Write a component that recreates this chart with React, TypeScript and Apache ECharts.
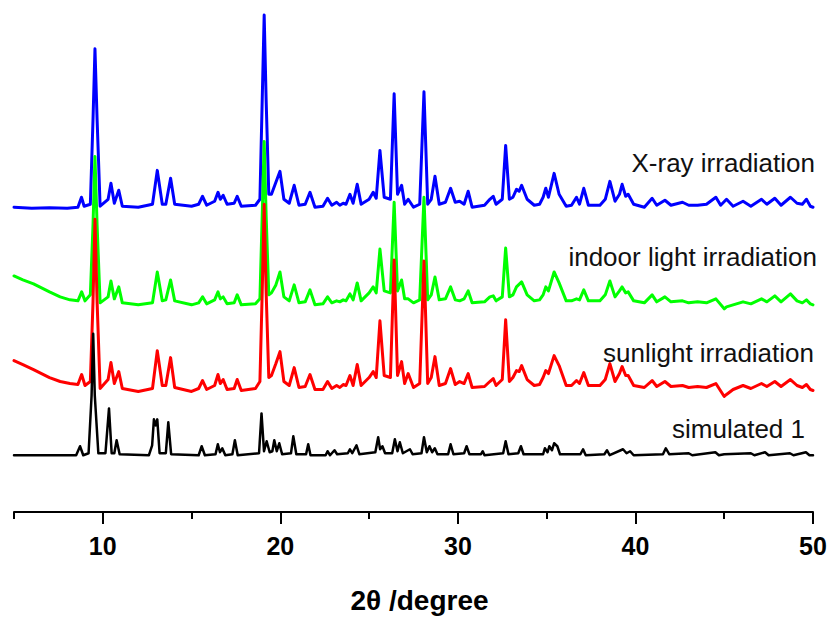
import React, { useEffect, useRef } from "react";
import * as echarts from "echarts";

// 2θ (degree) and intensity (a.u., relative to each pattern's own baseline)
const xrayIrradiation: [number, number][] = [
  [5, 0], [6, -1], [7, -0.5], [8, -1], [8.6, 0], [8.8, 10], [8.95, 1], [9.3, 3], [9.45, 88], [9.56, 159], [9.68, 88], [9.85, 1],
  [10.3, 8], [10.46, 24], [10.65, 4], [10.9, 17], [11.1, 1], [12, 0], [12.8, 3], [13.07, 37], [13.35, 3], [13.55, 3], [13.82, 29],
  [14.05, 3], [15, 1], [15.4, 3], [15.62, 11], [15.85, 2], [16.3, 6], [16.49, 15], [16.62, 8], [16.78, 12], [17.0, 3], [17.4, 4],
  [17.57, 11], [17.8, 1], [18.6, 2], [18.85, 8], [18.98, 108], [19.09, 193], [19.2, 108], [19.35, 13], [19.5, 13], [19.75, 25],
  [19.98, 36], [20.2, 8], [20.5, 4], [20.78, 22], [21.05, 2], [21.4, 3], [21.67, 15], [21.95, 0], [22.4, 1], [22.66, 9], [22.9, 2],
  [23.17, 5], [23.35, 2], [23.54, 4], [23.7, 3], [23.92, 13], [24.1, 4], [24.33, 23], [24.55, 3], [25.0, 8], [25.23, 15], [25.4, 9],
  [25.61, 57], [25.85, 10], [26.2, 8], [26.41, 114], [26.6, 13], [26.83, 22], [27.0, 3], [27.2, 8], [27.5, 0], [27.85, 3],
  [28.09, 116], [28.3, 3], [28.5, 8], [28.71, 31], [28.95, 3], [29.3, 5], [29.59, 19], [29.85, 5], [30.1, 6], [30.35, 3],
  [30.58, 16], [30.8, 0], [31.5, 2], [31.8, 8], [31.99, 11], [32.15, 3], [32.5, 8], [32.69, 62], [32.9, 8], [33.1, 10], [33.3, 18],
  [33.45, 16], [33.59, 22], [33.9, 8], [34.3, 2], [34.6, 3], [34.8, 10], [34.95, 19], [35.1, 10], [35.42, 34], [35.7, 13],
  [36.1, 1], [36.4, 2], [36.68, 10], [36.85, 3], [37.09, 19], [37.35, 2], [38.0, 2], [38.3, 8], [38.56, 26], [38.85, 6],
  [39.1, 13], [39.25, 23], [39.45, 11], [39.59, 13], [39.9, 3], [40.5, 0], [40.94, 9], [41.2, 2], [41.66, 7], [42.0, 2],
  [42.65, 5], [43.0, 2], [43.5, 2], [44.0, 3], [44.53, 10], [44.8, 2], [45.13, 8], [45.5, 1], [46.06, 6], [46.5, 1], [47.1, 8],
  [47.4, 3], [47.85, 9], [48.2, 2], [48.73, 10], [49.1, 4], [49.4, 3], [49.63, 8], [49.85, 1], [50, 0],
];

const indoorLightIrradiation: [number, number][] = [
  [5, 29], [5.5, 25], [6.1, 21], [7.0, 13], [7.6, 8], [8.15, 5], [8.6, 4], [8.81, 13], [9.0, 4], [9.3, 10], [9.45, 80], [9.56, 149],
  [9.68, 80], [9.85, 2], [10.3, 8], [10.46, 24], [10.65, 6], [10.9, 18], [11.1, 2], [12, 0], [12.8, 2], [13.07, 33], [13.35, 4],
  [13.55, 5], [13.82, 25], [14.05, 4], [15, 0], [15.4, 2], [15.62, 8], [15.85, 1], [16.3, 5], [16.49, 13], [16.62, 6], [16.78, 8],
  [17.0, 1], [17.4, 2], [17.57, 10], [17.8, 0], [18.6, 1], [18.85, 6], [18.98, 90], [19.09, 164], [19.2, 90], [19.35, 10],
  [19.5, 12], [19.75, 20], [19.98, 33], [20.2, 8], [20.5, 4], [20.78, 20], [21.05, 2], [21.4, 3], [21.67, 15], [21.95, 0],
  [22.4, 1], [22.66, 8], [22.9, 2], [23.17, 4], [23.35, 3], [23.54, 5], [23.7, 4], [23.92, 11], [24.1, 5], [24.33, 22], [24.55, 4],
  [25.0, 12], [25.23, 18], [25.4, 12], [25.61, 56], [25.85, 14], [26.2, 12], [26.41, 103], [26.6, 14], [26.83, 25], [27.0, 6],
  [27.2, 6], [27.5, 2], [27.85, 5], [28.09, 108], [28.3, 5], [28.5, 10], [28.71, 28], [28.95, 5], [29.3, 6], [29.59, 18],
  [29.85, 5], [30.1, 4], [30.35, 6], [30.58, 14], [30.8, 2], [31.5, 3], [31.8, 8], [31.99, 9], [32.15, 4], [32.5, 8], [32.69, 57],
  [32.9, 8], [33.1, 10], [33.3, 18], [33.59, 23], [33.9, 10], [34.3, 4], [34.6, 5], [34.8, 10], [34.95, 18], [35.1, 14],
  [35.42, 33], [35.7, 22], [36.1, 4], [36.4, 4], [36.68, 6], [36.85, 5], [37.09, 15], [37.35, 4], [38.0, 4], [38.3, 10],
  [38.56, 24], [38.85, 8], [39.1, 14], [39.25, 18], [39.45, 12], [39.59, 13], [39.9, 4], [40.5, 2], [40.94, 10], [41.2, 3],
  [41.66, 8], [42.0, 3], [42.65, 4], [43.0, 2], [43.5, 3], [44.0, 2], [44.53, 6], [45.0, -4], [45.13, -2], [45.5, 0], [46.06, 3],
  [46.5, 1], [47.1, 6], [47.4, 3], [47.85, 9], [48.2, 3], [48.73, 11], [49.1, 4], [49.4, 2], [49.63, 5], [49.85, 1], [50, 0],
];

const sunlightIrradiation: [number, number][] = [
  [5, 31], [5.5, 27], [6.1, 22], [7.0, 14], [7.6, 10], [8.15, 8], [8.6, 7], [8.81, 17], [9.0, 6], [9.3, 10], [9.45, 90], [9.56, 173],
  [9.68, 90], [9.85, 3], [10.3, 12], [10.46, 29], [10.65, 8], [10.9, 20], [11.1, 3], [12, 0], [12.8, 3], [13.07, 41], [13.35, 6],
  [13.55, 6], [13.82, 34], [14.05, 4], [15, 0], [15.4, 3], [15.62, 11], [15.85, 2], [16.3, 6], [16.49, 17], [16.62, 8], [16.78, 12],
  [17.0, 2], [17.4, 3], [17.57, 12], [17.8, 1], [18.6, 3], [18.85, 10], [18.98, 100], [19.09, 188], [19.2, 100], [19.35, 14],
  [19.5, 16], [19.75, 28], [19.98, 40], [20.2, 10], [20.5, 6], [20.78, 24], [21.05, 4], [21.4, 5], [21.67, 17], [21.95, 2],
  [22.4, 2], [22.66, 10], [22.9, 3], [23.17, 6], [23.35, 4], [23.54, 7], [23.7, 6], [23.92, 16], [24.1, 6], [24.33, 27], [24.55, 6],
  [25.0, 14], [25.23, 20], [25.4, 14], [25.61, 71], [25.85, 16], [26.2, 14], [26.41, 132], [26.6, 16], [26.83, 30], [27.0, 8],
  [27.2, 18], [27.5, 4], [27.85, 8], [28.09, 131], [28.3, 8], [28.5, 14], [28.71, 35], [28.95, 6], [29.3, 8], [29.59, 23],
  [29.85, 7], [30.1, 10], [30.35, 8], [30.58, 18], [30.8, 4], [31.5, 5], [31.8, 10], [31.99, 13], [32.15, 6], [32.5, 12],
  [32.69, 72], [32.9, 10], [33.1, 14], [33.3, 21], [33.45, 20], [33.59, 26], [33.9, 12], [34.3, 6], [34.6, 7], [34.8, 14],
  [34.95, 21], [35.1, 18], [35.42, 36], [35.7, 26], [36.1, 6], [36.4, 6], [36.68, 11], [36.85, 8], [37.09, 19], [37.35, 6],
  [38.0, 6], [38.3, 12], [38.56, 28], [38.85, 10], [39.1, 18], [39.25, 25], [39.45, 16], [39.59, 16], [39.9, 6], [40.5, 4],
  [40.94, 11], [41.2, 5], [41.66, 10], [42.0, 5], [42.65, 6], [43.0, 4], [43.5, 5], [44.0, 4], [44.53, 8], [45.0, -5],
  [45.13, -3], [45.5, 2], [46.06, 6], [46.5, 3], [47.1, 8], [47.4, 5], [47.85, 10], [48.2, 5], [48.73, 12], [49.1, 6], [49.4, 4],
  [49.63, 7], [49.85, 2], [50, 1],
];

const simulated1: [number, number][] = [
  [5, 0], [8.5, 0], [8.72, 9], [8.9, 0], [9.2, 2], [9.37, 60], [9.46, 122], [9.55, 60], [9.75, 2], [10.15, 2], [10.35, 47],
  [10.5, 2], [10.65, 2], [10.78, 15], [10.95, 1], [12.6, 0], [12.78, 10], [12.88, 36], [12.98, 30], [13.07, 36], [13.2, 2],
  [13.55, 2], [13.69, 33], [13.85, 1], [15.4, 0], [15.57, 9], [15.75, 0], [16.35, 1], [16.48, 11], [16.6, 3], [16.73, 7],
  [16.9, 0], [17.3, 1], [17.44, 15], [17.6, 0], [18.8, 2], [18.94, 42], [19.08, 4], [19.23, 14], [19.4, 3], [19.55, 4],
  [19.66, 15], [19.8, 4], [19.94, 12], [20.1, 1], [20.6, 2], [20.73, 19], [20.9, 1], [21.45, 1], [21.57, 11], [21.7, 0],
  [22.55, 0], [22.66, 4], [22.8, 0], [23.05, 5], [23.2, 1], [23.8, 2], [23.92, 6], [24.05, 2], [24.29, 10], [24.45, 1],
  [25.35, 3], [25.51, 18], [25.62, 6], [25.75, 9], [25.9, 2], [26.3, 2], [26.45, 16], [26.6, 4], [26.73, 13], [26.9, 2],
  [27.3, 6], [27.45, 1], [27.95, 2], [28.09, 18], [28.25, 3], [28.4, 9], [28.55, 3], [28.7, 7], [28.85, 1], [29.45, 1],
  [29.59, 11], [29.75, 1], [30.35, 2], [30.49, 9], [30.65, 1], [31.3, 1], [31.4, 4], [31.5, 0], [32.55, 2], [32.69, 14],
  [32.85, 1], [33.4, 2], [33.55, 9], [33.7, 1], [34.8, 1], [34.9, 7], [35.05, 3], [35.15, 9], [35.3, 5], [35.42, 12], [35.6, 9],
  [35.75, 1], [36.9, 1], [37.05, 6], [37.2, 0], [38.25, 1], [38.4, 5], [38.55, 0], [39.3, 6], [39.5, 2], [39.7, 4], [39.9, 0],
  [41.55, 1], [41.71, 7], [41.9, 1], [43, 2], [43.2, 0], [44.5, 3], [44.7, 0], [45, 1], [46.5, 2], [46.7, 0], [47.3, 3], [47.5, 0],
  [48.7, 2], [48.9, 0], [49.6, 3], [49.8, 0], [50, 0],
];

// stacking offsets (a.u.) of each pattern
const patternNames = ["X-ray irradiation", "indoor light irradiation", "sunlight irradiation", "simulated 1"];
const patternOffsets = [306, 208, 121, 57];
const patternColors = ["#0000ff", "#00ff00", "#ff0000", "#000000"];

const majorTicks = [10, 20, 30, 40, 50];
const axisTitle = "2θ /degree";

const FONT = "'Liberation Sans', Arial, Helvetica, sans-serif";

export default function App() {
  const ref = useRef<HTMLDivElement>(null);
  useEffect(() => {
    if (!ref.current) return;
    const chart = echarts.init(ref.current, undefined, { renderer: "svg" });
    const patterns = [xrayIrradiation, indoorLightIrradiation, sunlightIrradiation, simulated1];
    const labelPos = [
      { x: 815, y: 163 },
      { x: 817, y: 257 },
      { x: 814, y: 353 },
      { x: 805, y: 429 },
    ];
    chart.setOption({
      animation: false,
      backgroundColor: "#ffffff",
      grid: { left: 14, right: 19, top: 14, bottom: 105 },
      xAxis: [
        {
          type: "value",
          min: 5,
          max: 50,
          interval: 5,
          position: "bottom",
          axisLine: { show: true, lineStyle: { color: "#000", width: 2 } },
          axisTick: { show: true, inside: false, length: 7, lineStyle: { color: "#000", width: 2 } },
          axisLabel: {
            show: true,
            margin: 21,
            color: "#000",
            fontSize: 25,
            fontWeight: "bold",
            fontFamily: FONT,
            formatter: (v: number) => (majorTicks.indexOf(v) >= 0 ? String(v) : ""),
          },
          splitLine: { show: false },
          name: axisTitle,
          nameLocation: "middle",
          nameGap: 74,
          nameTextStyle: {
            color: "#000",
            fontSize: 28,
            fontWeight: "bold",
            fontFamily: FONT,
            padding: [0, 0, 0, 12],
          },
        },
        {
          type: "value",
          min: 5,
          max: 50,
          interval: 5,
          position: "bottom",
          offset: 0,
          axisLine: { show: false },
          axisTick: {
            show: true,
            inside: false,
            length: 12,
            customValues: majorTicks,
            lineStyle: { color: "#000", width: 2 },
          },
          axisLabel: { show: false },
          splitLine: { show: false },
        },
      ],
      yAxis: { type: "value", min: 0, max: 500, show: false },
      series: patterns.map((p, i) => ({
        name: patternNames[i],
        type: "line",
        xAxisIndex: 0,
        showSymbol: false,
        symbol: "none",
        smooth: false,
        z: 2 + i,
        lineStyle: { color: patternColors[i], width: i === 3 ? 2.5 : 3, join: "round", cap: "round" },
        data: p.map(([x, v]) => [x, v + patternOffsets[i]]),
      })),
      graphic: patternNames.map((name, i) => ({
        type: "text",
        x: labelPos[i].x,
        y: labelPos[i].y,
        z: 100,
        style: {
          text: name,
          fill: "#111",
          font: `26px ${FONT}`,
          align: "right",
          verticalAlign: "middle",
        },
      })),
    });
    return () => chart.dispose();
  }, []);
  return <div ref={ref} style={{ width: 832, height: 619, position: "absolute", left: 0, top: 0 }} />;
}
